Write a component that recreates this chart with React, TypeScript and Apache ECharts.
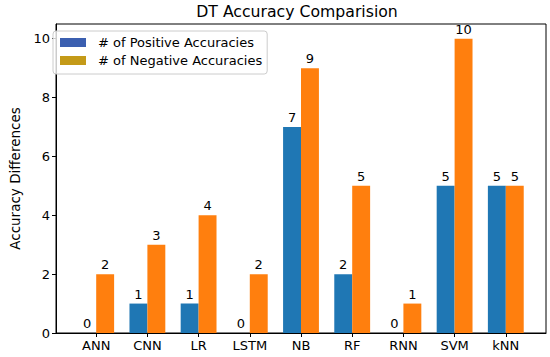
import React, { useEffect, useRef } from "react";
import * as echarts from "echarts";

const categories = ["ANN", "CNN", "LR", "LSTM", "NB", "RF", "RNN", "SVM", "kNN"];
const positiveValues = [0, 1, 1, 0, 7, 2, 0, 5, 5];
const negativeValues = [2, 3, 4, 2, 9, 5, 1, 10, 5];
const yTicks = [0, 2, 4, 6, 8, 10];

const FONT = "DejaVu Sans";
const BLUE = "#1f77b4";
const ORANGE = "#ff7f0e";
const BAR_W = 0.35;

function makeSeries(name: string, values: number[], color: string, legendColor: string, offset: number) {
  return {
    name,
    type: "custom",
    itemStyle: { color: legendColor },
    data: values.map((v, i) => [i, v]),
    encode: { x: 0, y: 1 },
    renderItem: (params: any, api: any) => {
      const i = api.value(0);
      const v = api.value(1);
      const p0 = api.coord([i + offset - BAR_W / 2, 0]);
      const p1 = api.coord([i + offset + BAR_W / 2, v]);
      return {
        type: "group",
        children: [
          {
            type: "rect",
            shape: { x: p0[0], y: p1[1], width: p1[0] - p0[0], height: p0[1] - p1[1] },
            style: { fill: color },
          },
          {
            type: "text",
            style: {
              text: String(v),
              x: (p0[0] + p1[0]) / 2,
              y: p1[1] - 3,
              align: "center",
              verticalAlign: "bottom",
              fontSize: 13,
              fontFamily: FONT,
              fill: "#000",
            },
          },
        ],
      };
    },
  };
}

export default function App() {
  const ref = useRef<HTMLDivElement>(null);
  useEffect(() => {
    if (!ref.current) return;
    const chart = echarts.init(ref.current, undefined, { renderer: "svg" });
    const n = categories.length;
    const pad = (n - 1 + 2 * BAR_W) * 0.05;
    chart.setOption({
      animation: false,
      backgroundColor: "#fff",
      textStyle: { fontFamily: FONT },
      title: {
        text: "DT Accuracy Comparision",
        left: 297,
        top: 3,
        padding: 0,
        textAlign: "center",
        textStyle: { fontFamily: FONT, fontSize: 15.7, fontWeight: "normal", color: "#000" },
      },
      legend: {
        orient: "vertical",
        left: 53,
        top: 31,
        padding: [4, 5, 6, 7],
        itemWidth: 26,
        itemHeight: 9,
        itemGap: 3,
        icon: "rect",
        borderColor: "#cccccc",
        borderWidth: 1,
        borderRadius: 3,
        backgroundColor: "rgba(255,255,255,0.8)",
        textStyle: { fontFamily: FONT, fontSize: 13, color: "#000", lineHeight: 15, padding: [0, 0, 0, 7] },
        data: [
          { name: "# of Positive Accuracies", itemStyle: { color: "#3b5fb0" } },
          { name: "# of Negative Accuracies", itemStyle: { color: "#c49a18" } },
        ],
      },
      grid: {
        left: 48,
        top: 24,
        width: 498,
        height: 309,
        show: true,
        borderColor: "#000",
        borderWidth: 1,
        backgroundColor: "transparent",
        containLabel: false,
      },
      xAxis: {
        type: "value",
        min: -BAR_W - pad,
        max: n - 1 + BAR_W + pad,
        splitLine: { show: false },
        axisLine: { show: true, onZero: false, lineStyle: { color: "#000" } },
        axisTick: { show: true, length: 4, lineStyle: { color: "#000" }, customValues: categories.map((_, i) => i) },
        axisLabel: {
          customValues: categories.map((_, i) => i),
          formatter: (v: number) => categories[Math.round(v)] ?? "",
          fontSize: 13,
          fontFamily: FONT,
          color: "#000",
          margin: 6,
        },
      },
      yAxis: {
        type: "value",
        min: 0,
        max: 10.5,
        name: "Accuracy Differences",
        nameLocation: "middle",
        nameRotate: 90,
        nameGap: 34,
        nameTextStyle: { fontFamily: FONT, fontSize: 13.5, color: "#000" },
        splitLine: { show: false },
        axisLine: { show: true, onZero: false, lineStyle: { color: "#000" } },
        axisTick: { show: true, length: 4, lineStyle: { color: "#000" }, customValues: yTicks },
        axisLabel: {
          customValues: yTicks,
          fontSize: 13,
          fontFamily: FONT,
          color: "#000",
          margin: 6,
        },
      },
      series: [
        makeSeries("# of Positive Accuracies", positiveValues, BLUE, BLUE, -BAR_W / 2),
        makeSeries("# of Negative Accuracies", negativeValues, ORANGE, ORANGE, BAR_W / 2),
      ],
    });
    return () => chart.dispose();
  }, []);
  return <div ref={ref} style={{ position: "fixed", left: 0, top: 0, width: 550, height: 357 }} />;
}
